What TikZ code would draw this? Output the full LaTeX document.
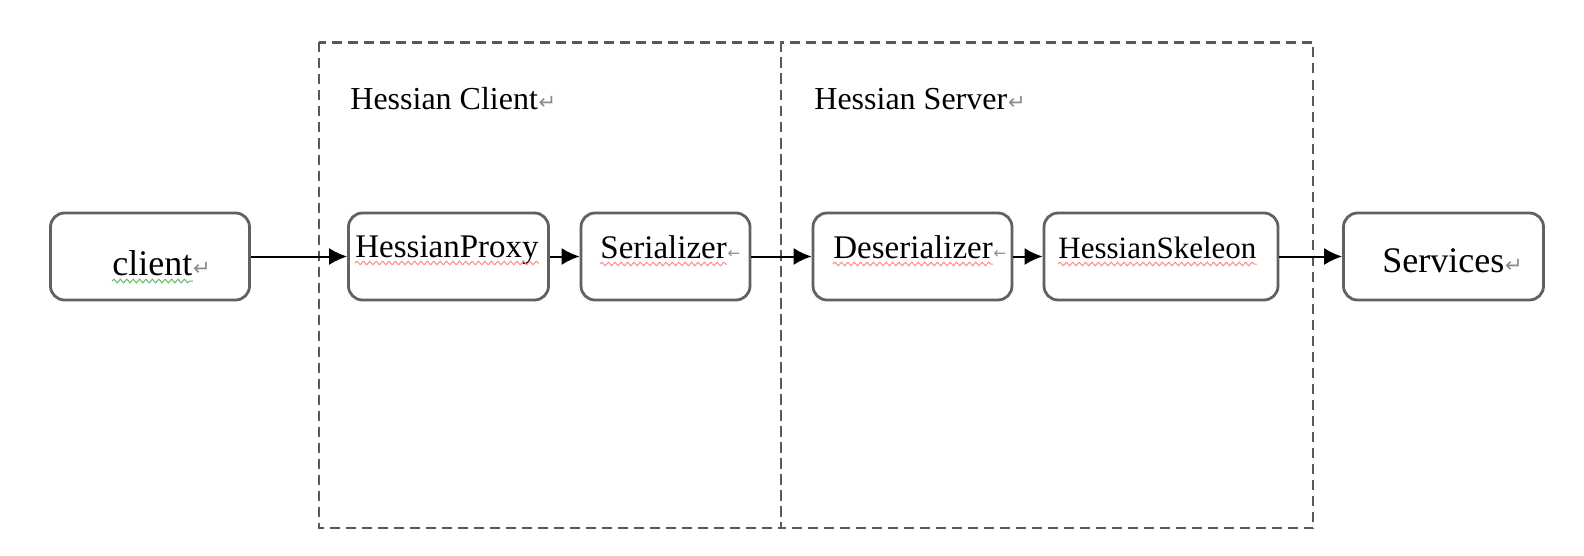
\documentclass[tikz,border=0pt]{standalone}
\usepackage{fontspec}
\setmainfont{Liberation Serif}
\newfontfamily\markfont{DejaVu Sans}
\usetikzlibrary{arrows.meta,decorations.pathmorphing}
\begin{document}
\begin{tikzpicture}[x=0.5pt,y=-0.5pt,
  compbox/.style={draw=black!62,line width=1.4pt,rounded corners=7pt,fill=white,
    minimum height=43.5pt,inner sep=0pt,anchor=center},
  wordtext/.style={anchor=base west,inner sep=0pt,text=black},
  pmark/.style={anchor=base west,inner sep=0pt,text=black!45,font=\markfont\fontsize{10.5}{10.5}\selectfont},
  flow/.style={line width=1pt,-{Latex[length=9pt,width=8.5pt]}},
  group/.style={draw=black!65,line width=1.2pt,dash pattern=on 5pt off 3pt},
  squig/.style={decorate,decoration={snake,amplitude=0.9pt,segment length=3.2pt},line width=0.5pt},
]
\useasboundingbox (0,0) rectangle (1584,556);
\fill[white] (0,0) rectangle (1584,556);

% groups
\draw[group] (319,42.5) rectangle (781,528);
\draw[group] (781,42.5) rectangle (1313,528);

% boxes
\node[compbox,minimum width=99.5pt] (client) at (150,256.5) {};
\node[compbox,minimum width=100pt] (proxy) at (448.5,256.5) {};
\node[compbox,minimum width=84.5pt] (ser) at (665.5,256.5) {};
\node[compbox,minimum width=99.5pt] (deser) at (912.5,256.5) {};
\node[compbox,minimum width=117pt] (skel) at (1161,256.5) {};
\node[compbox,minimum width=100pt] (serv) at (1443.5,256.5) {};

% texts
\node[wordtext,font=\fontsize{18}{18}\selectfont] (tclient) at (112,275) {client};
\node[pmark] at (tclient.base east) {↵};
\node[wordtext,font=\fontsize{16.5}{16.5}\selectfont] (tproxy) at (355,257) {HessianProxy};
\node[wordtext,font=\fontsize{16.5}{16.5}\selectfont] (tser) at (600,258) {Serializer};
\node[pmark,font=\markfont\fontsize{7.5}{7.5}\selectfont] at (tser.base east) {←};
\node[wordtext,font=\fontsize{16.5}{16.5}\selectfont] (tdeser) at (833,258) {Deserializer};
\node[pmark,font=\markfont\fontsize{7.5}{7.5}\selectfont] at (tdeser.base east) {←};
\node[wordtext,font=\fontsize{15.5}{15.5}\selectfont] (tskel) at (1058,258) {HessianSkeleon};
\node[wordtext,font=\fontsize{18}{18}\selectfont] (tserv) at (1382,272) {Services};
\node[pmark] at (tserv.base east) {↵};

% spell-check underlines
\draw[squig,draw=green!55!black!60] ([yshift=-3pt]tclient.base west) -- ([yshift=-3pt]tclient.base east);
\foreach \t in {tproxy,tser,tdeser,tskel}
  \draw[squig,draw=red!45] ([yshift=-3pt]\t.base west) -- ([yshift=-3pt]\t.base east);

% group labels
\node[wordtext,font=\fontsize{16}{16}\selectfont] (lclient) at (350,110) {Hessian Client};
\node[pmark] at (lclient.base east) {↵};
\node[wordtext,font=\fontsize{16}{16}\selectfont] (lserver) at (814,110) {Hessian Server};
\node[pmark] at (lserver.base east) {↵};

% connectors
\draw[flow] (client.east) -- (proxy.west);
\draw[flow] (proxy.east) -- (ser.west);
\draw[flow] (ser.east) -- (deser.west);
\draw[flow] (deser.east) -- (skel.west);
\draw[flow] (skel.east) -- (serv.west);
\end{tikzpicture}
\end{document}
